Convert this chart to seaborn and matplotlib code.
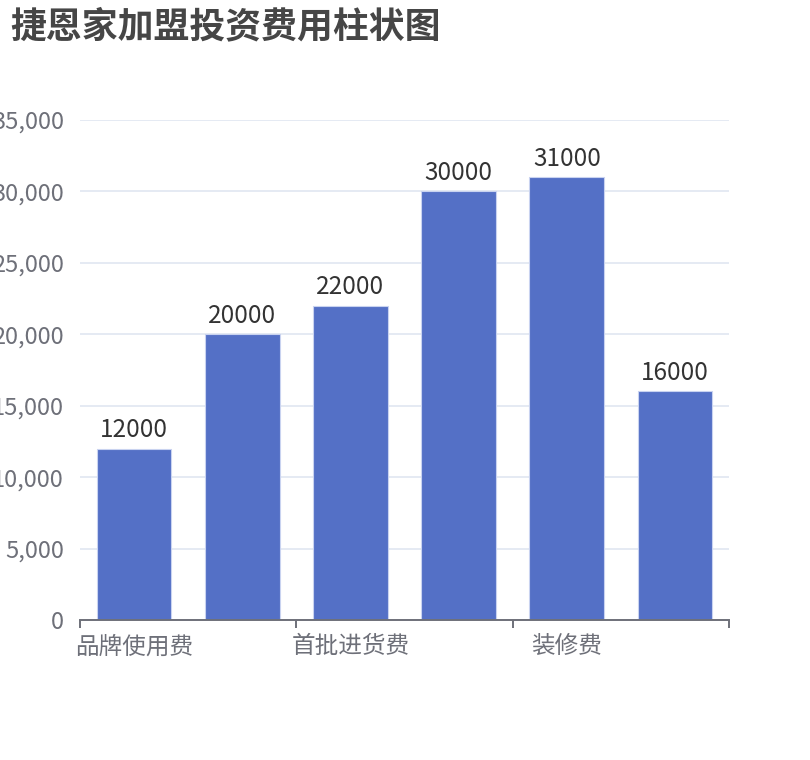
import matplotlib
matplotlib.use("Agg")
import matplotlib.pyplot as plt
import seaborn as sns
import pandas as pd
from matplotlib.ticker import FuncFormatter, FixedLocator

categories = ["品牌使用费", "加盟费", "首批进货费", "设备费", "装修费", "其他费用"]
values = [12000, 20000, 22000, 30000, 31000, 16000]
title = "捷恩家加盟投资费用柱状图"

sns.set_theme(style="white")
plt.rcParams["font.family"] = ["Noto Sans CJK SC", "DejaVu Sans"]

df = pd.DataFrame({"category": categories, "value": values})

fig = plt.figure(figsize=(8.1, 7.6), dpi=100)
ax = fig.add_axes([80 / 810, 1 - 620 / 760, 649 / 810, 500 / 760])

sns.barplot(data=df, x="category", y="value", color="#5470c6", saturation=1,
            width=0.69, edgecolor="#c9d3f0", linewidth=0.8, ax=ax, zorder=3)

ax.set_xlim(-0.5, len(categories) - 0.5)
ax.set_ylim(0, 35000)
ax.set_yticks(range(0, 35001, 5000))
ax.yaxis.set_major_formatter(FuncFormatter(lambda v, p: f"{int(v):,}"))
ax.grid(axis="y", color="#e0e6f1", linewidth=1.2, zorder=0)
ax.grid(axis="x", visible=False)

for side in ["top", "right", "left"]:
    ax.spines[side].set_visible(False)
ax.spines["bottom"].set_color("#6e7079")
ax.spines["bottom"].set_linewidth(1.4)
ax.spines["bottom"].set_zorder(4)

# category labels: every other one shown
shown = [c if i % 2 == 0 else "" for i, c in enumerate(categories)]
ax.set_xticks(range(len(categories)))
ax.set_xticklabels(shown)
ax.tick_params(axis="x", which="major", length=0, pad=11, labelsize=17,
               labelcolor="#6e7079")
ax.xaxis.set_minor_locator(FixedLocator([-0.5, 1.5, 3.5, 5.5]))
ax.tick_params(axis="x", which="minor", length=6, width=1.4, color="#6e7079",
               direction="out", bottom=True)
ax.tick_params(axis="y", length=0, pad=11.5, labelsize=17, labelcolor="#6e7079")
ax.set_xlabel("")
ax.set_ylabel("")

for cont in ax.containers:
    ax.bar_label(cont, labels=[str(v) for v in values], padding=4,
                 fontsize=17.5, color="#333333")

fig.text(10 / 810, 1 - 27 / 760, title, fontsize=25.8, fontweight="bold",
         color="#464646", va="center", ha="left")

fig.savefig("out.png", dpi=100)
